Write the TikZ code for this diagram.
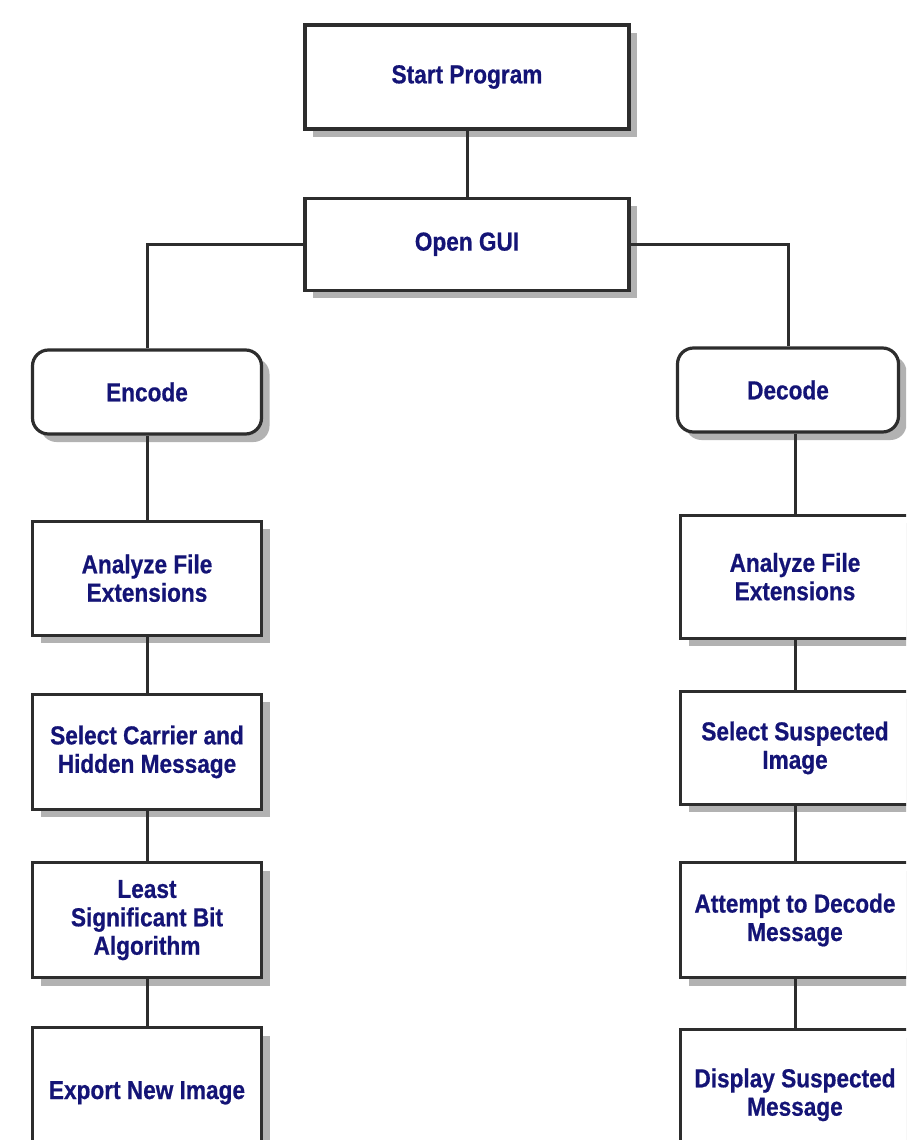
\documentclass[tikz,border=0pt]{standalone}
\usepackage{fontspec}
\newfontfamily\boxfont[FakeStretch=0.87,FakeBold=0.6]{Liberation Sans}
\usepackage{xcolor}
\usetikzlibrary{positioning,shadows}
\definecolor{txtblue}{RGB}{20,20,118}
\definecolor{edgegray}{RGB}{45,45,45}
\definecolor{shadegray}{RGB}{178,178,178}
\tikzset{
  box/.style ={draw=edgegray, line width=1.6pt, fill=white, align=center, text=txtblue, inner sep=0pt,
               font=\boxfont\bfseries\fontsize{13}{14.2}\selectfont, minimum width=114.5pt,
               drop shadow={shadow xshift=4pt, shadow yshift=-4pt, fill=shadegray, opacity=1}},
  rbox/.style={box, rounded corners=8pt},
  conn/.style={draw=edgegray, line width=1.5pt},
}
\begin{document}
\begin{tikzpicture}[x=0.5pt, y=-0.5pt]
  \useasboundingbox (0,0) rectangle (906,1140);
  \clip (0,0) rectangle (906,1140);
  \node[box, minimum width=162pt, minimum height=52pt] (start) at (467,77) {Start Program};
  \node[box, minimum width=162pt, minimum height=46pt, below=33pt of start] (gui) {Open GUI};
  \node[rbox, minimum height=42pt] (enc) at (147,392) {Encode};
  \node[rbox, minimum width=110.5pt, minimum height=42pt] (dec) at (788,390) {Decode};
  \node[box, minimum height=57pt, below=42pt of enc] (anaL) {Analyze File\\Extensions};
  \node[box, minimum height=57.5pt, below=28pt of anaL] (selL) {Select Carrier and\\Hidden Message};
  \node[box, minimum height=57.5pt, below=25pt of selL] (lsb) {Least\\Significant Bit\\Algorithm};
  \node[box, minimum height=65pt, below=23.5pt of lsb] (expo) {Export New Image};
  \node[box, minimum height=61.5pt, below=40pt of dec, xshift=3.5pt] (anaR) {Analyze File\\Extensions};
  \node[box, minimum height=56.5pt, below=25pt of anaR] (selR) {Select Suspected\\Image};
  \node[box, minimum height=57.5pt, below=27.5pt of selR] (att) {Attempt to Decode\\Message};
  \node[box, minimum height=65pt, below=24.5pt of att] (disp) {Display Suspected\\Message};
  \draw[conn] (start) -- (gui);
  \draw[conn] (gui.west) -| (enc.north);
  \draw[conn] (gui.east) -| (dec.north);
  \draw[conn] (enc) -- (anaL);
  \draw[conn] (anaL) -- (selL);
  \draw[conn] (selL) -- (lsb);
  \draw[conn] (lsb) -- (expo);
  \draw[conn] (anaR.north |- dec.south) -- (anaR.north);
  \draw[conn] (anaR) -- (selR);
  \draw[conn] (selR) -- (att);
  \draw[conn] (att) -- (disp);
\end{tikzpicture}
\end{document}
